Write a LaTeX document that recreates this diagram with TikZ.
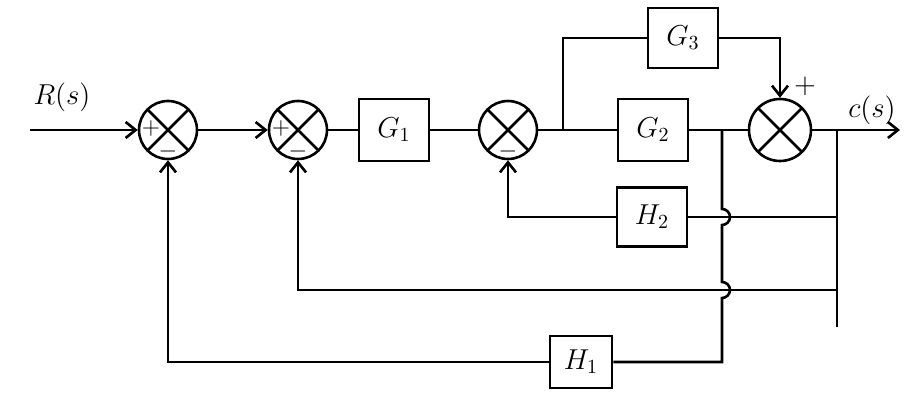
\documentclass[tikz,border=0pt]{standalone}
\usetikzlibrary{arrows.meta}
\begin{document}
\begin{tikzpicture}[x=0.5pt, y=-0.5pt, line width=1.3pt,
  every node/.style={align=center, font=\Large},
  block/.style={draw, minimum width=35pt, minimum height=31pt, inner sep=0pt},
  sumj/.style={draw, circle, minimum size=29pt, inner sep=0pt,
    path picture={\draw (path picture bounding box.north west) -- (path picture bounding box.south east)
      (path picture bounding box.north east) -- (path picture bounding box.south west);}},
  sig/.style={-{Straight Barb[length=5pt, width=8pt]}},
  sgn/.style={font=\large, inner sep=0pt}]
\useasboundingbox (0,0) rectangle (918,394);

% forward path
\coordinate (in) at (30,130);
\node[sumj] at (168,130) (s1) {};
\node[sumj] at (298,130) (s2) {};
\node[block] at (394,130) (g1) {$G_1$};
\node[sumj] at (508,130) (s3) {};
\node[block] at (653,130) (g2) {$G_2$};
\node[block, minimum height=30pt] at (683,38) (g3) {$G_3$};
\node[sumj, minimum size=31pt] at (780,130) (s4) {};
\coordinate (out) at (900,130);
\node at (62,97) (rlab) {$R(s)$};
\node at (872,110) (clab) {$c(s)$};

% signs
\node[sgn] at (151,129) (s1p) {$+$};
\node[sgn] at (168,152) (s1m) {$-$};
\node[sgn] at (281,129) (s2p) {$+$};
\node[sgn] at (298,152) (s2m) {$-$};
\node[sgn] at (508,152) (s3m) {$-$};
\node[sgn, font=\Large] at (805,86) (s4p) {$+$};

% branch points
\coordinate (b1) at (563,130);
\coordinate (b2) at (722,130);
\coordinate (b3) at (837,130);
\coordinate (t2) at (837,217);
\coordinate (t1) at (837,290);
\coordinate (bend) at (837,327);
\coordinate (j2) at (722,217);
\coordinate (j1) at (722,290);

% feedback blocks
\node[block, minimum height=29.5pt] at (652,217) (h2) {$H_2$};
\node[block, minimum width=31pt, minimum height=26pt] at (581,362) (h1) {$H_1$};

\draw[sig] (in) -- (s1);
\draw[sig] (s1) -- (s2);
\draw (s2) -- (g1);
\draw (g1) -- (s3);
\draw (s3) -- (g2);
\draw (g2) -- (s4);
\draw[sig] (s4) -- (out);
\draw (b1) |- (g3);
\draw[sig] (g3) -| (s4);

\draw (b3) -- (bend);
\draw (t2) -- (h2);
\draw[sig] (h2) -| (s3);
\draw[sig] (t1) -| (s2);
\draw (b2) -- ([yshift=4pt]j2) arc[start angle=90, end angle=-90, radius=4pt]
  -- ([yshift=4pt]j1) arc[start angle=90, end angle=-90, radius=4pt] |- (h1);
\draw[sig] (h1) -| (s1);
\end{tikzpicture}
\end{document}
